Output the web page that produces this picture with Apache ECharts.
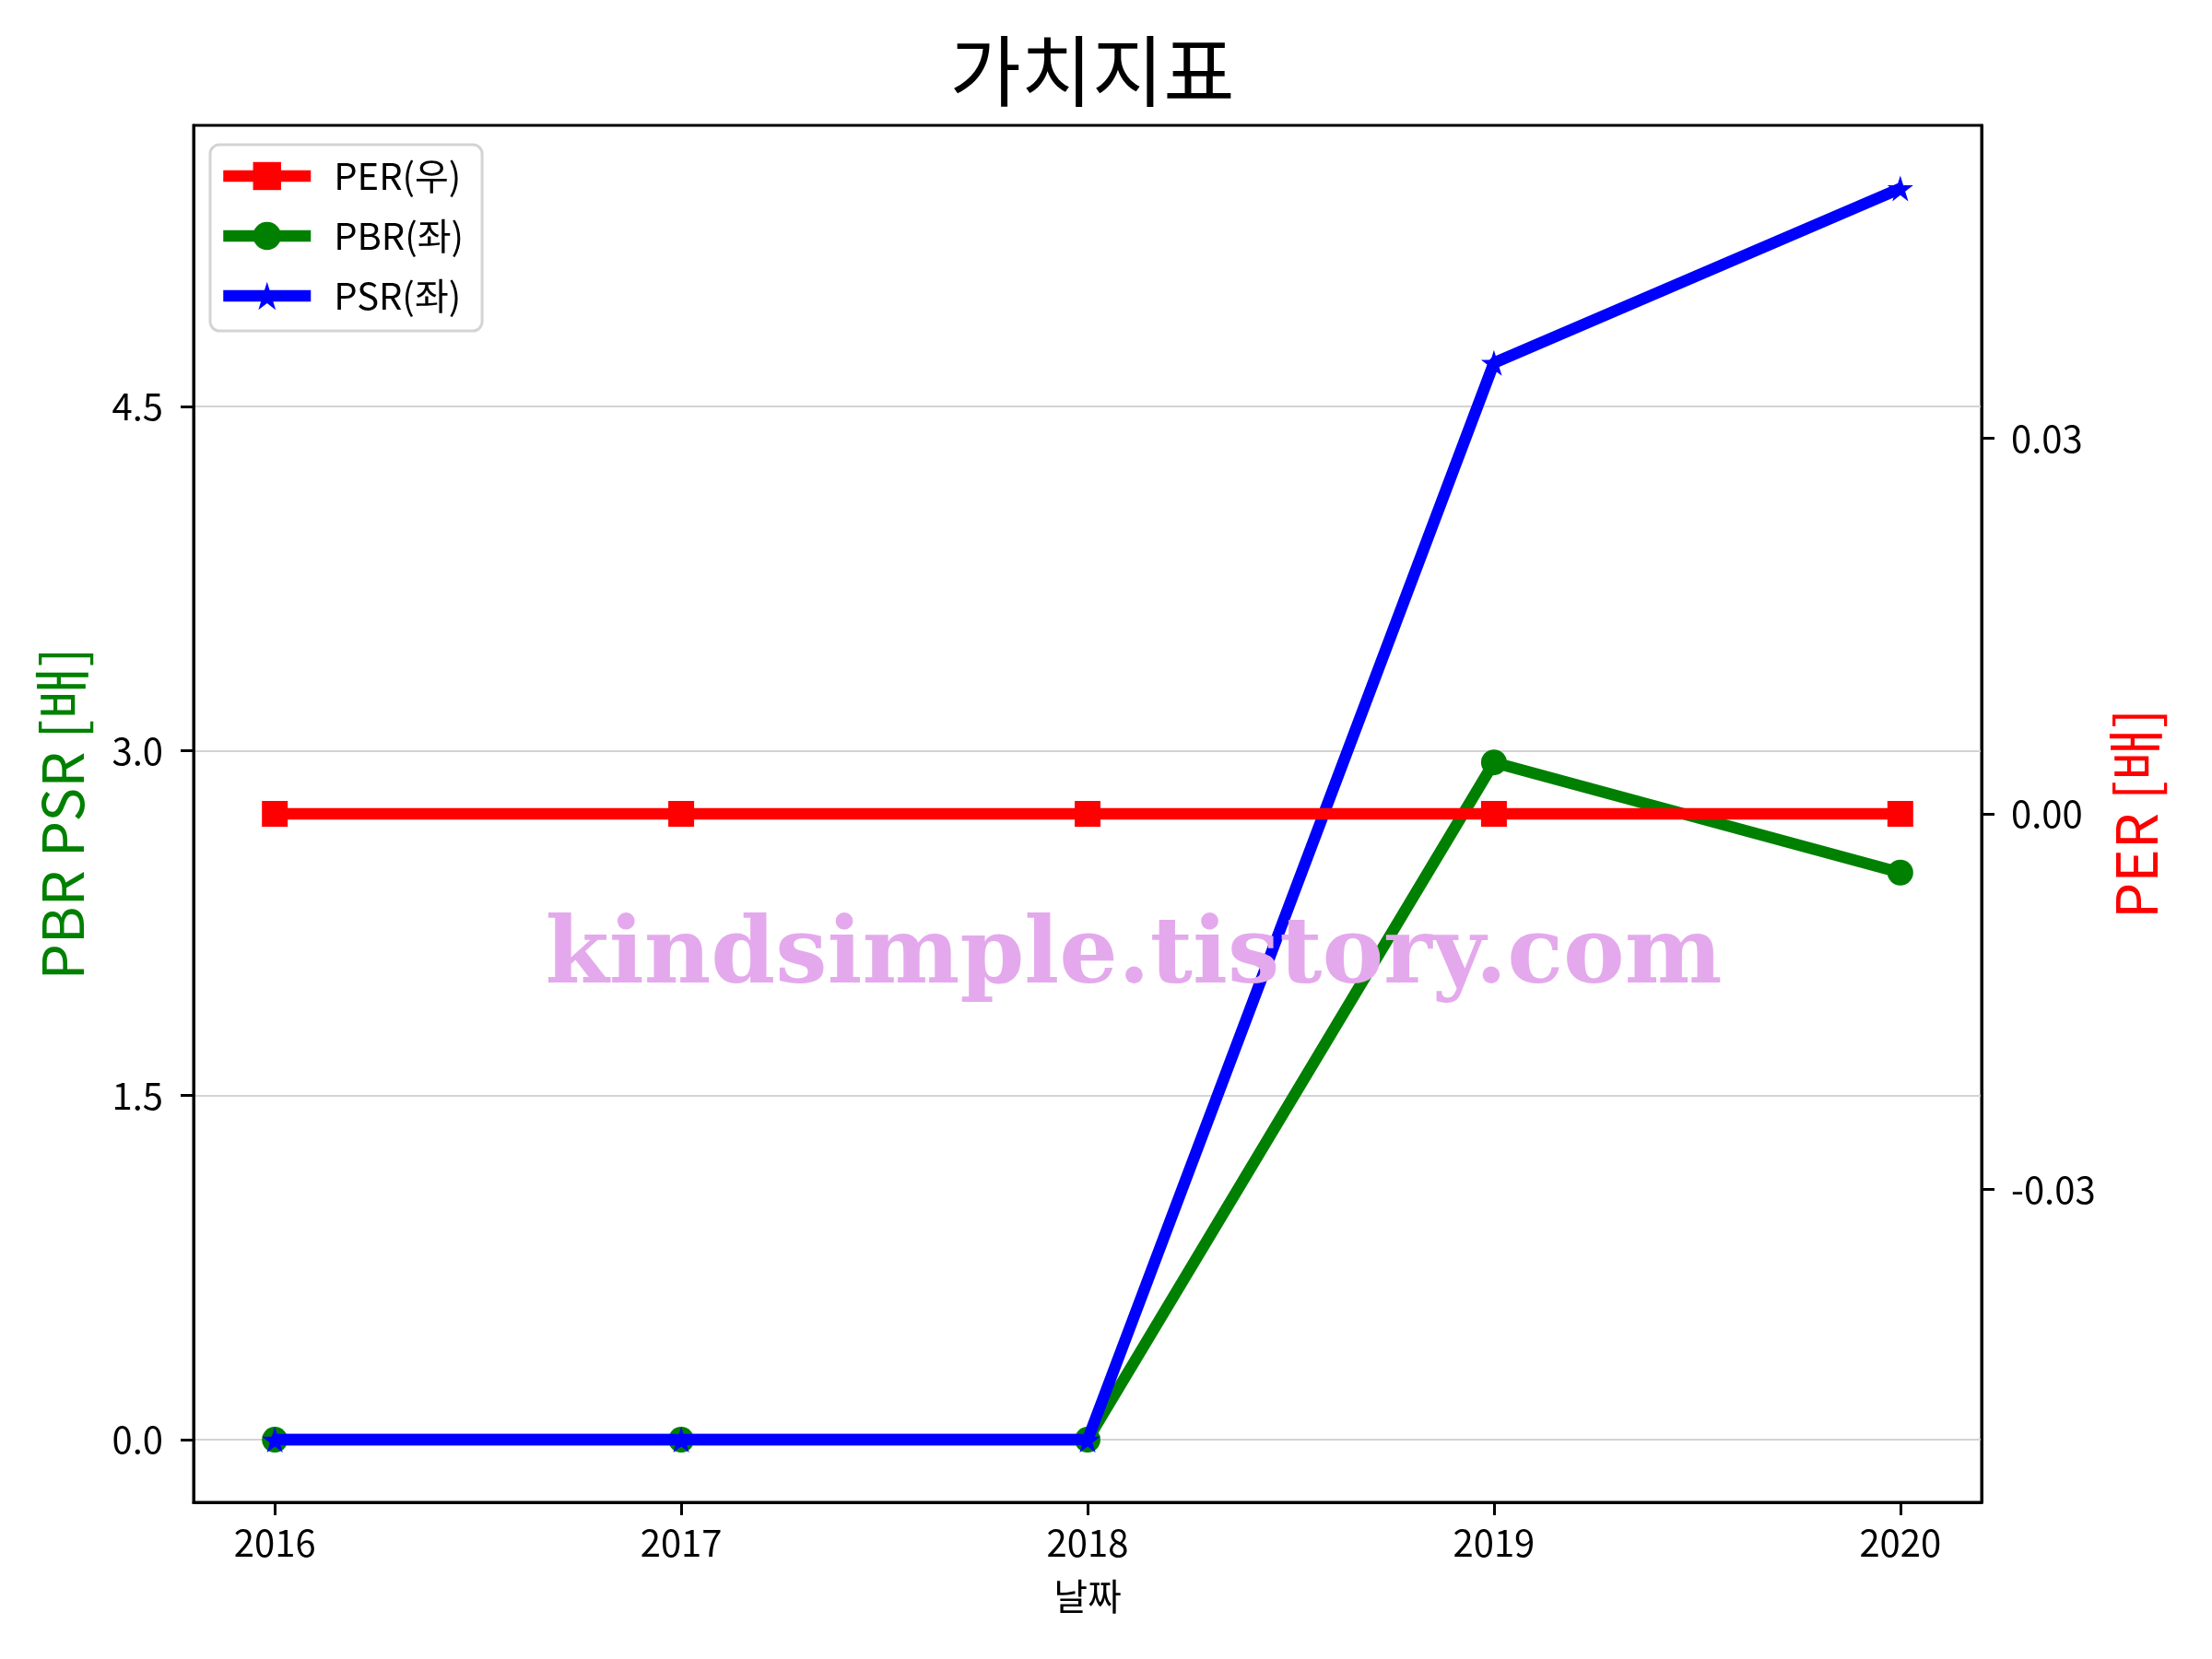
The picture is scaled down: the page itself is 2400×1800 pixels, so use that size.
<!DOCTYPE html>
<html>
<head>
<meta charset="utf-8">
<script src="https://cdn.jsdelivr.net/npm/echarts@6/dist/echarts.min.js"></script>
<style>html,body{margin:0;padding:0;background:#fff}#c{width:2400px;height:1800px}</style>
</head>
<body>
<div id="c"></div>
<script>
const years = [2016, 2017, 2018, 2019, 2020];
const perValues = [0, 0, 0, 0, 0];
const pbrValues = [0, 0, 0, 2.95, 2.47];
const psrValues = [0, 0, 0, 4.69, 5.45];
const leftTicks = [0, 1.5, 3.0, 4.5];
const rightTicks = [-0.03, 0, 0.03];

const FONT = '"Noto Sans CJK KR", "Noto Sans", sans-serif';
const STAR = 'path://M0,-1 L0.2245,-0.309 L0.951,-0.309 L0.363,0.118 L0.588,0.809 L0,0.382 L-0.588,0.809 L-0.363,0.118 L-0.951,-0.309 L-0.2245,-0.309 Z';

const chart = echarts.init(document.getElementById('c'), null, {renderer: 'canvas'});
const pair = arr => years.map((y, i) => [y, arr[i]]);

chart.setOption({
  backgroundColor: '#fff',
  animation: false,
  title: {
    text: '가치지표', left: 1180, top: 30, textAlign: 'center',
    textStyle: {fontFamily: FONT, fontSize: 84, fontWeight: 'normal', color: '#000'}
  },
  legend: {
    orient: 'vertical', left: 228, top: 157,
    data: ['PER(우)', 'PBR(좌)', 'PSR(좌)'],
    itemWidth: 95, itemHeight: 38, itemGap: 25,
    padding: [14, 20, 18, 8],
    borderColor: '#d4d4d4', borderWidth: 3, borderRadius: 10,
    backgroundColor: 'rgba(255,255,255,0.8)',
    lineStyle: {width: 12.5},
    textStyle: {fontFamily: FONT, fontSize: 40, color: '#000', padding: [0, 0, 0, 20]}
  },
  grid: {left: 210, right: 250, top: 136, bottom: 170, show: true, borderColor: '#000', borderWidth: 3, backgroundColor: 'transparent'},
  xAxis: {
    type: 'value', min: 2015.8, max: 2020.2,
    name: '날짜', nameLocation: 'middle', nameGap: 82,
    nameTextStyle: {fontFamily: FONT, fontSize: 40, color: '#000'},
    axisLine: {show: true, onZero: false, lineStyle: {color: '#000', width: 3}},
    axisTick: {show: true, length: 14, lineStyle: {color: '#000', width: 3}, customValues: years},
    axisLabel: {customValues: years, fontFamily: FONT, fontSize: 40, color: '#000', margin: 24, formatter: v => String(v)},
    splitLine: {show: false}
  },
  yAxis: [{
    type: 'value', position: 'left', min: -0.2726, max: 5.7246,
    name: 'PBR PSR [배]', nameLocation: 'middle', nameGap: 112, nameRotate: 90,
    nameTextStyle: {fontFamily: FONT, fontSize: 62, color: 'green'},
    axisLine: {show: true, onZero: false, lineStyle: {color: '#000', width: 3}},
    axisTick: {show: true, length: 14, lineStyle: {color: '#000', width: 3}, customValues: leftTicks},
    axisLabel: {customValues: leftTicks, fontFamily: FONT, fontSize: 40, color: '#000', margin: 33, formatter: v => v.toFixed(1)},
    splitLine: {show: true, lineStyle: {color: '#d3d3d3', width: 2}}
  }, {
    type: 'value', position: 'right', min: -0.055, max: 0.055,
    name: 'PER [배]', nameLocation: 'middle', nameGap: 136, nameRotate: 90,
    nameTextStyle: {fontFamily: FONT, fontSize: 62, color: 'red'},
    axisLine: {show: true, onZero: false, lineStyle: {color: '#000', width: 3}},
    axisTick: {show: true, length: 14, lineStyle: {color: '#000', width: 3}, customValues: rightTicks},
    axisLabel: {customValues: rightTicks, fontFamily: FONT, fontSize: 40, color: '#000', margin: 32, formatter: v => v.toFixed(2)},
    splitLine: {show: false}
  }],
  series: [{
    name: 'PBR(좌)', type: 'line', yAxisIndex: 0, data: pair(pbrValues), z: 2,
    symbol: 'circle', symbolSize: 28, showAllSymbol: true,
    lineStyle: {color: 'green', width: 12.5}, itemStyle: {color: 'green'}
  }, {
    name: 'PSR(좌)', type: 'line', yAxisIndex: 0, data: pair(psrValues), z: 3,
    symbol: STAR, symbolSize: 28, showAllSymbol: true,
    lineStyle: {color: 'blue', width: 12.5}, itemStyle: {color: 'blue'}
  }, {
    name: 'PER(우)', type: 'line', yAxisIndex: 1, data: pair(perValues), z: 4,
    symbol: 'rect', symbolSize: 28, showAllSymbol: true,
    lineStyle: {color: 'red', width: 12.5}, itemStyle: {color: 'red'}
  }],
  graphic: [{
    type: 'text', x: 1230, y: 1040, z: 100, silent: true,
    style: {
      text: 'kindsimple.tistory.com', align: 'center', verticalAlign: 'middle',
      font: 'bold 100px "DejaVu Serif", serif', fill: '#e4a9ec'
    }
  }]
});
</script>
</body>
</html>
